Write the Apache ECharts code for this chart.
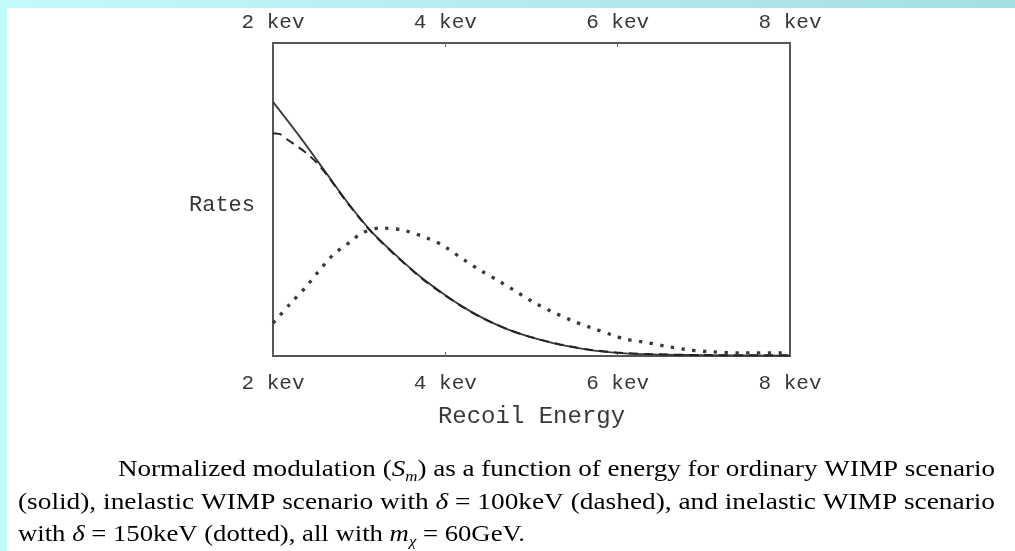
<!DOCTYPE html>
<html>
<head>
<meta charset="utf-8">
<script src="https://cdn.jsdelivr.net/npm/echarts@6/dist/echarts.min.js"></script>
<style>
html,body{margin:0;padding:0;background:#fff;}
#c{width:1015px;height:551px;}
</style>
</head>
<body>
<div id="c"></div>
<script>
// ---- data ----
var xTicks = [2, 4, 6, 8];
var tickUnit = ' kev';
var solidX = [2.0, 2.313, 2.627, 2.870, 3.149, 3.451, 3.729, 3.996, 4.205, 4.437, 4.716, 4.983, 5.331, 5.679, 5.992, 6.375, 6.955, 8.0];
var solidY = [0.812, 0.700, 0.581, 0.489, 0.396, 0.316, 0.249, 0.195, 0.157, 0.121, 0.086, 0.061, 0.036, 0.019, 0.010, 0.005, 0.003, 0.001];
var dashedX = [2.0, 2.081, 2.174, 2.371, 2.510, 2.627, 2.870, 3.149, 3.451, 3.729, 3.996, 4.205, 4.437, 4.716, 4.983, 5.331, 5.679, 5.992, 6.375, 6.955, 8.0];
var dashedY = [0.712, 0.709, 0.690, 0.652, 0.617, 0.578, 0.487, 0.394, 0.314, 0.247, 0.194, 0.156, 0.120, 0.086, 0.061, 0.037, 0.020, 0.011, 0.006, 0.003, 0.002];
var dottedX = [2.0, 2.197, 2.371, 2.522, 2.696, 2.894, 3.033, 3.242, 3.497, 3.729, 3.961, 4.170, 4.379, 4.600, 4.832, 5.041, 5.273, 5.505, 5.737, 5.969, 6.085, 6.352, 6.607, 6.839, 7.106, 7.420, 7.884, 8.0];
var dottedY = [0.105, 0.166, 0.217, 0.268, 0.323, 0.364, 0.393, 0.409, 0.403, 0.383, 0.355, 0.316, 0.278, 0.243, 0.204, 0.169, 0.137, 0.109, 0.086, 0.064, 0.054, 0.042, 0.029, 0.019, 0.013, 0.010, 0.010, 0.010];
var xName = 'Recoil Energy';
var yName = 'Rates';

function pairs(xs, ys){ var o=[]; for (var i=0;i<xs.length;i++) o.push([xs[i], ys[i]]); return o; }

// ---- caption, measured so justified lines fill their width ----
var serif = '"Liberation Serif", "Times New Roman", serif';
var capSize = 24, subSize = 15;
var cv = document.createElement('canvas').getContext('2d');
function segWidth(segs){
  var w = 0;
  segs.forEach(function(s){
    var sz = s[0]==='s' ? subSize : capSize;
    var st = (s[0]==='i' || s[0]==='s') ? 'italic ' : '';
    cv.font = st + sz + 'px ' + serif;
    w += cv.measureText(s[1]).width;
  });
  return w;
}
function richText(segs){ return segs.map(function(s){ return '{' + s[0] + '|' + s[1] + '}'; }).join(''); }
var line1 = [['n','Normalized modulation ('],['i','S'],['s','m'],['n',') as a function of energy for ordinary WIMP scenario']];
var line2 = [['n','(solid), inelastic WIMP scenario with '],['i','\u03B4'],['n',' = 100keV (dashed), and inelastic WIMP scenario']];
var line3 = [['n','with '],['i','\u03B4'],['n',' = 150keV (dotted), all with '],['i','m'],['s','\u03C7'],['n',' = 60GeV.']];
var sc1 = 877 / segWidth(line1);
var sc2 = 977 / segWidth(line2);
var sc3 = 507 / segWidth(line3);
var capColor = '#2a2a2a';
var rich = {
  n: {fontFamily: serif, fontSize: capSize, color: capColor, lineHeight: 30, verticalAlign: 'middle'},
  i: {fontFamily: serif, fontSize: capSize, fontStyle: 'italic', color: capColor, lineHeight: 30, verticalAlign: 'middle'},
  s: {fontFamily: serif, fontSize: subSize, fontStyle: 'italic', color: capColor, lineHeight: 30, verticalAlign: 'bottom'}
};
function capEl(segs, x, y, sc){
  return {type: 'text', x: x, y: y, scaleX: sc, scaleY: 1, silent: true,
    style: {text: richText(segs), rich: rich, textAlign: 'left', textVerticalAlign: 'middle', verticalAlign: 'middle'}};
}

var monoFont = '"Liberation Mono", "DejaVu Sans Mono", monospace';
var txtColor = '#383838';
var chart = echarts.init(document.getElementById('c'), null, {renderer: 'canvas'});
var xAxisBase = function(pos, margin){
  return {
    type: 'value', position: pos, min: xTicks[0], max: xTicks[xTicks.length-1], interval: xTicks[1]-xTicks[0],
    axisLine: {show: false},
    axisTick: {show: true, inside: true, length: 4, lineStyle: {color: '#666', width: 1}},
    splitLine: {show: false},
    axisLabel: {show: true, margin: margin, fontFamily: monoFont, fontSize: 21, color: txtColor,
      formatter: function(v){ return v + tickUnit; }}
  };
};
var xb = xAxisBase('bottom', 17);
xb.name = xName; xb.nameLocation = 'middle'; xb.nameGap = 49;
xb.nameTextStyle = {fontFamily: monoFont, fontSize: 24, color: txtColor};
var xt = xAxisBase('top', 10);

chart.setOption({
  animation: false,
  backgroundColor: '#ffffff',
  grid: {left: 273, right: 225, top: 43, bottom: 195, show: true, borderColor: '#555', borderWidth: 2, backgroundColor: 'transparent', containLabel: false},
  xAxis: [xb, xt],
  yAxis: {type: 'value', min: 0, max: 1, axisLine: {show: false}, axisTick: {show: false}, axisLabel: {show: false}, splitLine: {show: false},
    name: yName, nameLocation: 'middle', nameRotate: 0, nameGap: 18,
    nameTextStyle: {fontFamily: monoFont, fontSize: 22, color: txtColor, verticalAlign: 'top', lineHeight: 12}},
  series: [
    {type: 'line', name: 'solid', data: pairs(solidX, solidY), showSymbol: false, smooth: 0.25,
      lineStyle: {color: '#3a3a3a', width: 1.8, type: 'solid'}},
    {type: 'line', name: 'dashed', data: pairs(dashedX, dashedY), showSymbol: false, smooth: 0.25,
      lineStyle: {color: '#222', width: 2, type: [9, 6]}},
    {type: 'line', name: 'dotted', data: pairs(dottedX, dottedY), showSymbol: false, smooth: 0.25,
      lineStyle: {color: '#3a3a3a', width: 3.3, type: [3.3, 7.5]}}
  ],
  graphic: [
    {type: 'rect', shape: {x: 0, y: 0, width: 1015, height: 8}, silent: true,
      style: {fill: new echarts.graphic.LinearGradient(0, 0, 1, 0, [{offset: 0, color: '#c3fafa'}, {offset: 1, color: '#a6dfe1'}])}},
    {type: 'rect', shape: {x: 0, y: 0, width: 7, height: 551}, silent: true, style: {fill: '#c3fafa'}},
    capEl(line1, 118, 470, sc1),
    capEl(line2, 18, 503, sc2),
    capEl(line3, 18, 535, sc3)
  ]
});
</script>
</body>
</html>
